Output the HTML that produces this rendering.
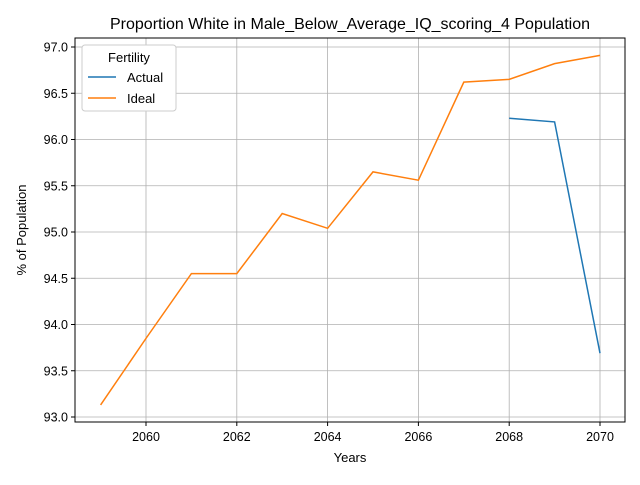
<!DOCTYPE html>
<html><head><meta charset="utf-8"><style>
body{margin:0;background:#fff;font-family:"Liberation Sans","DejaVu Sans",sans-serif}
</style></head><body>
<svg id="chart" width="640" height="480" xmlns="http://www.w3.org/2000/svg">
<rect width="640" height="480" fill="#fff"/>
<text x="350" y="29" font-size="16" text-anchor="middle">Proportion White in Male_Below_Average_IQ_scoring_4 Population</text>
<g id="grid"></g>
<g id="ticks" font-size="12.5"></g>
<g id="series"></g>
<rect x="75" y="38" width="550" height="384" fill="none" stroke="#000" stroke-width="1"/>
<text x="350" y="462" font-size="13" text-anchor="middle">Years</text>
<text x="26" y="230" font-size="13" text-anchor="middle" transform="rotate(-90 26 230)">% of Population</text>
<g>
<rect x="82" y="45" width="94" height="66" rx="3" fill="#fff" stroke="#ccc"/>
<text x="129" y="62" font-size="13" text-anchor="middle">Fertility</text>
<line x1="88" y1="77" x2="116" y2="77" stroke="#1f77b4" stroke-width="1.5"/>
<text x="127" y="82" font-size="13">Actual</text>
<line x1="88" y1="98" x2="116" y2="98" stroke="#ff7f0e" stroke-width="1.5"/>
<text x="127" y="103" font-size="13">Ideal</text>
</g>
</svg>
<script>
const xTicks=[2060,2062,2064,2066,2068,2070];
const yTicks=[93.0,93.5,94.0,94.5,95.0,95.5,96.0,96.5,97.0];
const idealYears=[2059,2060,2061,2062,2063,2064,2065,2066,2067,2068,2069,2070];
const idealValues=[93.13,93.85,94.55,94.55,95.2,95.04,95.65,95.56,96.62,96.65,96.82,96.91];
const actualYears=[2068,2069,2070];
const actualValues=[96.23,96.19,93.69];
const x=v=>146+(v-2060)*45.4;
const y=v=>47+(97-v)*92.5;
const NS="http://www.w3.org/2000/svg";
const grid=document.getElementById('grid'),ticks=document.getElementById('ticks'),series=document.getElementById('series');
function mk(tag,attrs,parent){const e=document.createElementNS(NS,tag);for(const k in attrs)e.setAttribute(k,attrs[k]);parent.appendChild(e);return e;}
xTicks.forEach(t=>{
 const g=mk('line',{x1:x(t),x2:x(t),y1:38,y2:422,stroke:'#b0b0b0','stroke-width':0.8},grid);
 
 
 mk('line',{x1:x(t),x2:x(t),y1:422,y2:426,stroke:'#000'},ticks);
 const l=mk('text',{x:x(t),y:441,'text-anchor':'middle'},ticks);l.textContent=t;
 
 
});
yTicks.forEach(t=>{
 const g=mk('line',{x1:75,x2:625,y1:y(t),y2:y(t),stroke:'#b0b0b0','stroke-width':0.8},grid);
 
 
 mk('line',{x1:71,x2:75,y1:y(t),y2:y(t),stroke:'#000'},ticks);
 const l=mk('text',{x:68,y:y(t)+4.5,'text-anchor':'end'},ticks);l.textContent=t.toFixed(1);
 
 
});
function line(xs,vs,color,name){
 const p=mk('polyline',{points:xs.map((v,i)=>x(v)+','+y(vs[i])).join(' '),fill:'none',stroke:color,'stroke-width':1.5},series);
 
 
}
line(idealYears,idealValues,'#ff7f0e','ideal-line');
line(actualYears,actualValues,'#1f77b4','actual-line');
</script>
</body></html>
